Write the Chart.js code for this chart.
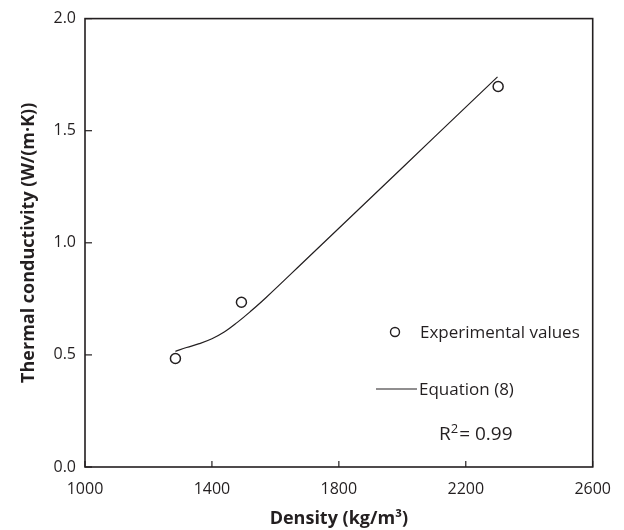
<!DOCTYPE html>
<html><head><meta charset="utf-8">
<script src="https://cdn.jsdelivr.net/npm/chart.js@4.4.1/dist/chart.umd.min.js"></script>
<style>html,body{margin:0;padding:0;background:#fff}#wrap{width:624px;height:530px}</style>
</head><body><div id="wrap"><canvas id="c" width="624" height="530"></canvas></div>
<script>
const expDensity = [1285, 1493, 2302];
const expConductivity = [0.484, 0.735, 1.697];
const eqDensity = [1285, 1320, 1360, 1400, 1440, 1480, 1520, 1570, 1700, 1900, 2100, 2300];
const eqConductivity = [0.516, 0.533, 0.55, 0.572, 0.603, 0.645, 0.692, 0.755, 0.93, 1.20, 1.47, 1.74];
const xTicks = [1000, 1400, 1800, 2200, 2600];
const yTicks = [0.0, 0.5, 1.0, 1.5, 2.0];

const FONT = "'Open Sans', sans-serif";
const TXT = '#231f20';

const frame = {
  id: 'frame',
  afterDraw(chart) {
    const {ctx, chartArea: a, scales: {x, y}} = chart;
    ctx.save();
    ctx.strokeStyle = TXT; ctx.lineWidth = 1.6;
    ctx.strokeRect(a.left, a.top, a.right - a.left, a.bottom - a.top);
    ctx.lineWidth = 1.2;
    xTicks.forEach(v => { const px = x.getPixelForValue(v); ctx.beginPath(); ctx.moveTo(px, a.bottom); ctx.lineTo(px, a.bottom - 6); ctx.stroke(); });
    yTicks.forEach(v => { const py = y.getPixelForValue(v); ctx.beginPath(); ctx.moveTo(a.left, py); ctx.lineTo(a.left + 7, py); ctx.stroke(); });
    // legend
    ctx.fillStyle = TXT;
    ctx.font = '17px ' + FONT;
    ctx.textBaseline = 'middle';
    ctx.beginPath(); ctx.arc(395, 332, 4.5, 0, Math.PI * 2); ctx.lineWidth = 1.4; ctx.stroke();
    ctx.fillText('Experimental values', 420, 333);
    ctx.beginPath(); ctx.moveTo(376, 389); ctx.lineTo(417, 389); ctx.lineWidth = 1.1; ctx.stroke();
    ctx.fillText('Equation (8)', 419, 390);
    ctx.font = '19px ' + FONT;
    ctx.fillText('R', 439, 435);
    const rw = ctx.measureText('R').width;
    ctx.font = '13px ' + FONT;
    ctx.fillText('2', 439 + rw, 429);
    const sw = ctx.measureText('2').width;
    ctx.font = '19px ' + FONT;
    ctx.fillText('= 0.99', 439 + rw + sw + 1, 435);
    ctx.restore();
  }
};

new Chart(document.getElementById('c'), {
  type: 'scatter',
  data: {
    datasets: [
      {
        label: 'Equation (8)',
        type: 'line',
        data: eqDensity.map((d, i) => ({x: d, y: eqConductivity[i]})),
        borderColor: TXT, borderWidth: 1.2, pointRadius: 0, fill: false,
        tension: 0.4
      },
      {
        label: 'Experimental values',
        data: expDensity.map((d, i) => ({x: d, y: expConductivity[i]})),
        pointStyle: 'circle', pointRadius: 5, pointBorderWidth: 1.5,
        pointBorderColor: TXT, pointBackgroundColor: '#fff'
      }
    ]
  },
  options: {
    responsive: false, animation: false,
    layout: {padding: {top: 16, right: 27, left: 14, bottom: 0}},
    plugins: {legend: {display: false}, tooltip: {enabled: false}},
    scales: {
      x: {
        type: 'linear', min: 1000, max: 2600,
        afterBuildTicks: s => { s.ticks = xTicks.map(v => ({value: v})); },
        afterFit: s => { s.height = 63; },
        grid: {display: false, drawTicks: false},
        border: {display: false},
        ticks: {color: TXT, font: {family: FONT, size: 16}, padding: 13, maxRotation: 0, callback: v => String(v)},
        title: {display: true, text: 'Density (kg/m³)', color: TXT, font: {family: FONT, size: 18, weight: 'bold'}, padding: {top: 0, bottom: 0}}
      },
      y: {
        type: 'linear', min: 0, max: 2,
        afterBuildTicks: s => { s.ticks = yTicks.map(v => ({value: v})); },
        afterFit: s => { s.width = 71; },
        grid: {display: false, drawTicks: false},
        border: {display: false},
        ticks: {color: TXT, font: {family: FONT, size: 16}, padding: 9, callback: v => v.toFixed(1)},
        title: {display: true, text: 'Thermal conductivity (W/(m·K))', color: TXT, font: {family: FONT, size: 18, weight: 'bold'}, padding: {bottom: 4}}
      }
    }
  },
  plugins: [frame]
});
</script>
</body></html>
